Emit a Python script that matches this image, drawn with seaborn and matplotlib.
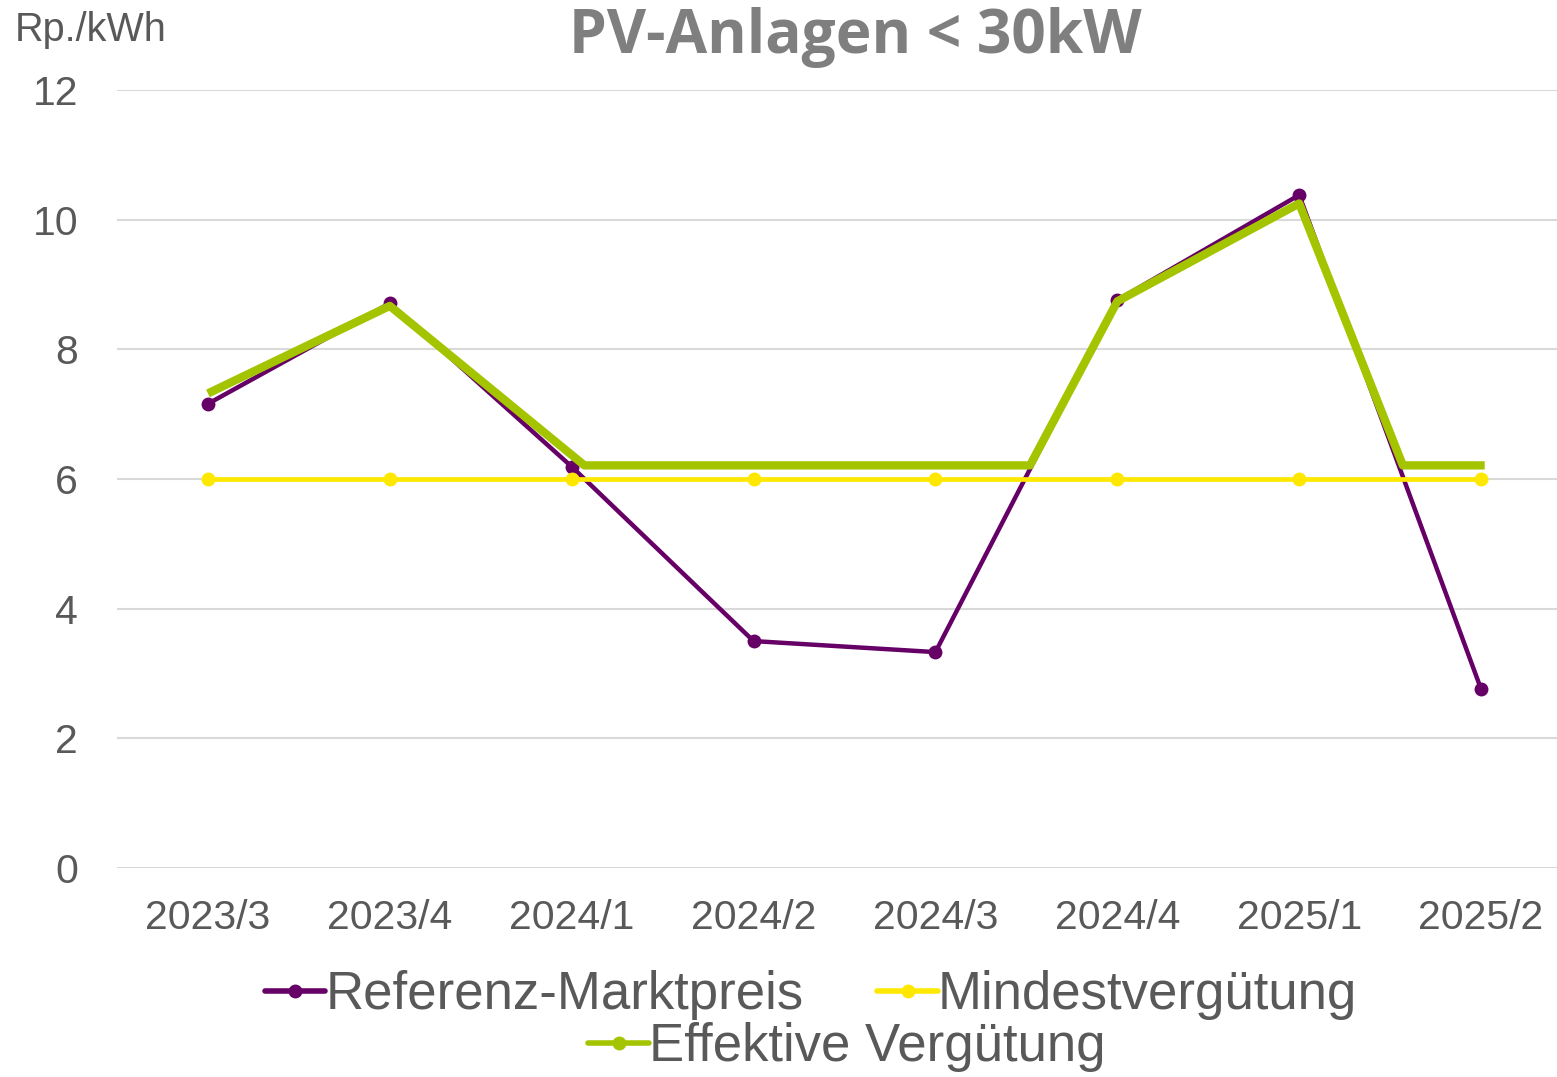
import matplotlib
matplotlib.use("Agg")
import matplotlib.pyplot as plt
import seaborn as sns
from matplotlib.lines import Line2D

# Quartale und Werte (Rp./kWh)
quartale = ['2023/3', '2023/4', '2024/1', '2024/2', '2024/3', '2024/4', '2025/1', '2025/2']
referenz = [7.16, 8.71, 6.19, 3.50, 3.33, 8.76, 10.38, 2.76]
mindest = [6.0, 6.0, 6.0, 6.0, 6.0, 6.0, 6.0, 6.0]
# effektive Vergütung: Knickpunkte inkl. Schnittpunkte mit dem Boden
effektiv_pos = [0, 1, 2.07, 4.52, 5, 6, 6.57, 7.02]
effektiv = [7.32, 8.67, 6.21, 6.21, 8.74, 10.25, 6.21, 6.21]

c_ref = '#660066'
c_min = '#ffe800'
c_eff = '#a5c400'
grau = '#595959'

sns.set_style('white')
plt.rcParams['font.family'] = ['Liberation Sans', 'DejaVu Sans']

fig = plt.figure(figsize=(15.57, 10.77), dpi=100)
ax = fig.add_axes([117 / 1557, 1 - 868 / 1077, 1455 / 1557, 778 / 1077])

pos = list(range(len(quartale)))
sns.lineplot(x=pos, y=mindest, ax=ax, color=c_min, lw=3.4, marker='o', markersize=10,
             markeredgewidth=0, zorder=3)
sns.lineplot(x=pos, y=referenz, ax=ax, color=c_ref, lw=3.2, marker='o', markersize=10,
             markeredgewidth=0, zorder=2)
sns.lineplot(x=effektiv_pos, y=effektiv, ax=ax, color=c_eff, lw=6, sort=False,
             solid_capstyle='butt', zorder=4)

ax.set_xlim(-0.5, 7.5)
ax.set_ylim(0, 12)
ax.set_yticks([0, 2, 4, 6, 8, 10, 12])
ax.set_xticks(pos)
ax.set_xticklabels(quartale)
ax.tick_params(axis='both', length=0, labelsize=29.5, labelcolor=grau)
ax.tick_params(axis='y', pad=28)
ax.tick_params(axis='x', pad=22)
ax.grid(axis='y', color='#d9d9d9', lw=1.5)
ax.grid(axis='x', visible=False)
ax.set_axisbelow(True)
for s in ax.spines.values():
    s.set_visible(False)

fig.text(15 / 1557, 1 - 30 / 1077, 'Rp./kWh', fontsize=28.5, color=grau, va='center', ha='left')
fig.text(855 / 1557, 1 - 38 / 1077, 'PV-Anlagen < 30kW', fontsize=43.5, fontweight='bold',
         color='#7f7f7f', va='center', ha='center', family=['Open Sans', 'DejaVu Sans'])

def handle(c):
    return Line2D([], [], color=c, lw=4, marker='o', markersize=10, markeredgewidth=0)

leg_kw = dict(frameon=False, fontsize=38, labelcolor=grau, handlelength=1.15,
              handletextpad=0.0, borderaxespad=0, borderpad=0)
fig.legend([handle(c_ref), handle(c_min)], ['Referenz-Marktpreis', 'Mindestvergütung'],
           loc='center', bbox_to_anchor=(811 / 1557, 1 - 995 / 1077), ncol=2,
           columnspacing=1.4, **leg_kw)
fig.legend([handle(c_eff)], ['Effektive Vergütung'], loc='center',
           bbox_to_anchor=(847 / 1557, 1 - 1047 / 1077), **leg_kw)

fig.savefig('out.png', dpi=100)
